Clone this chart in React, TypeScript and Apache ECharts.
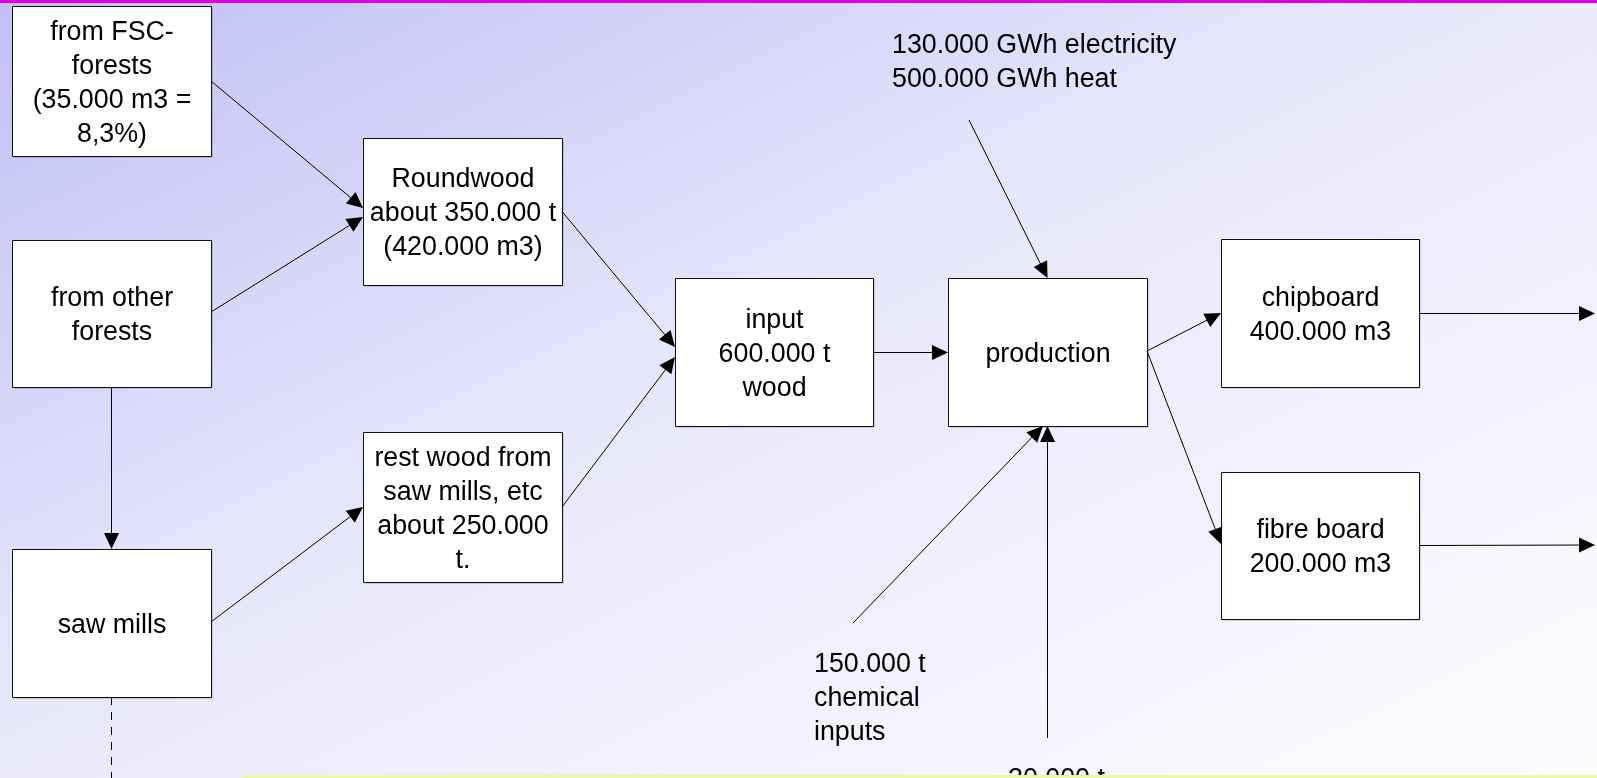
import React, { useEffect, useRef } from "react";
import * as echarts from "echarts";

// ---------- content (data) ----------
const nodeIds = ["fsc", "other", "saw", "round", "rest", "input", "prod", "chip", "fibre"];
const nodeLabels = [
  ["from FSC-", "forests", "(35.000 m3 =", "8,3%)"],
  ["from other", "forests"],
  ["saw mills"],
  ["Roundwood", "about 350.000 t", "(420.000 m3)"],
  ["rest wood from", "saw mills, etc", "about 250.000", "t."],
  ["input", "600.000 t", "wood"],
  ["production"],
  ["chipboard", "400.000 m3"],
  ["fibre board", "200.000 m3"],
];
const noteIds = ["energy", "chem", "lorry"];
const noteLabels = [
  ["130.000 GWh electricity", "500.000 GWh heat"],
  ["150.000 t", "chemical", "inputs"],
  ["20.000 t"],
];
const flowFrom = ["fsc", "other", "other", "saw", "round", "rest", "input", "energyStart", "chemStart", "lorryStart", "prod", "prod", "chip", "fibre", "saw"];
const flowTo = ["round", "round", "saw", "rest", "input", "input", "prod", "prod", "prod", "prod", "chip", "fibre", "outChip", "outFibre", "outSaw"];
const flowDashed = [false, false, false, false, false, false, false, false, false, false, false, false, false, false, true];

// ---------- layout (positions / sizes) ----------
const CANVAS_W = 1597;
const CANVAS_H = 778;
const FONT_SIZE = 26.8;
const LINE_H = 34;
const FONT_FAMILY = '"Liberation Sans", Arial, Helvetica, sans-serif';

const boxRect: Record<string, [number, number, number, number]> = {
  fsc: [12, 6, 199, 150],
  other: [12, 240, 199, 147],
  saw: [12, 549, 199, 148],
  round: [363, 138, 199, 147],
  rest: [363, 432, 199, 150],
  input: [675, 278, 198, 148],
  prod: [948, 278, 199, 148],
  chip: [1221, 239, 198, 148],
  fibre: [1221, 472, 198, 147],
};
const notePos: Record<string, [number, number]> = {
  energy: [892, 27],
  chem: [814, 646],
  lorry: [1008, 761],
};
const freePoint: Record<string, [number, number]> = {
  energyStart: [969, 120],
  chemStart: [853, 623],
  lorryStart: [1047.5, 738],
  outChip: [1595, 313],
  outFibre: [1595, 545],
  outSaw: [111.5, 778],
};
// [fromSide, fromFrac, toSide, toFrac]
const flowSides: [string, number, string, number][] = [
  ["r", 0.5, "l", 0.476],
  ["r", 0.49, "l", 0.537],
  ["b", 0.5, "t", 0.5],
  ["r", 0.493, "l", 0.5],
  ["r", 0.5, "l", 0.466],
  ["r", 0.5, "l", 0.534],
  ["r", 0.5, "l", 0.5],
  ["", 0, "t", 0.5],
  ["", 0, "b", 0.477],
  ["", 0, "b", 0.5],
  ["r", 0.493, "l", 0.5],
  ["r", 0.493, "l", 0.49],
  ["r", 0.5, "", 0],
  ["r", 0.5, "", 0],
  ["b", 0.5, "", 0],
];

function anchor(id: string, side: string, f: number): [number, number] {
  const r = boxRect[id];
  if (!r) return freePoint[id];
  const [x, y, w, h] = r;
  if (side === "r") return [x + w, y + h * f];
  if (side === "l") return [x, y + h * f];
  if (side === "t") return [x + w * f, y];
  return [x + w * f, y + h];
}

const crisp = (v: number) => Math.round(v - 0.5) + 0.5;

export default function App() {
  const ref = useRef<HTMLDivElement>(null);

  useEffect(() => {
    if (!ref.current) return;
    const chart = echarts.init(ref.current, undefined, { renderer: "svg" });

    const boxSeries = {
      type: "custom",
      coordinateSystem: "cartesian2d",
      clip: false,
      silent: true,
      z: 2,
      data: nodeIds.map((_, i) => [i, 0]),
      renderItem: (params: any, api: any) => {
        const i = api.value(0);
        const [x, y, w, h] = boxRect[nodeIds[i]];
        const p1 = api.coord([x, y]);
        const p2 = api.coord([x + w, y + h]);
        const x0 = crisp(p1[0]);
        const y0 = crisp(p1[1]);
        const x1 = crisp(p2[0]);
        const y1 = crisp(p2[1]);
        return {
          type: "group",
          children: [
            {
              type: "rect",
              shape: { x: x0 + 1, y: y0 + 1, width: x1 - x0, height: y1 - y0 },
              style: { fill: "rgba(0,0,0,0.28)" },
            },
            {
              type: "rect",
              shape: { x: x0, y: y0, width: x1 - x0, height: y1 - y0 },
              style: { fill: "#ffffff", stroke: "#111111", lineWidth: 1 },
            },
            {
              type: "text",
              style: {
                text: nodeLabels[i].join("\n"),
                x: (x0 + x1) / 2,
                y: (y0 + y1) / 2,
                align: "center",
                verticalAlign: "middle",
                fontSize: FONT_SIZE,
                fontFamily: FONT_FAMILY,
                lineHeight: LINE_H,
                fill: "#000000",
              },
            },
          ],
        };
      },
    };

    const flowSeries = {
      type: "custom",
      coordinateSystem: "cartesian2d",
      clip: false,
      silent: true,
      z: 3,
      data: flowFrom.map((_, i) => [i, 0]),
      renderItem: (params: any, api: any) => {
        const i = api.value(0);
        const [fs, ff, ts, tf] = flowSides[i];
        const a = api.coord(anchor(flowFrom[i], fs, ff));
        const b = api.coord(anchor(flowTo[i], ts, tf));
        let ax = a[0], ay = a[1], bx = b[0], by = b[1];
        if (Math.abs(ax - bx) < 0.01) { ax = crisp(ax); bx = ax; }
        if (Math.abs(ay - by) < 0.01) { ay = crisp(ay); by = ay; }
        const dashed = flowDashed[i];
        if (dashed) {
          return {
            type: "line",
            shape: { x1: ax, y1: ay, x2: bx, y2: by },
            style: { stroke: "#000000", lineWidth: 1, lineDash: [8, 7] },
          };
        }
        const dx = bx - ax, dy = by - ay;
        const len = Math.hypot(dx, dy);
        const ux = dx / len, uy = dy / len;
        const L = 16, HW = 7.5;
        const baseX = bx - ux * L, baseY = by - uy * L;
        return {
          type: "group",
          children: [
            {
              type: "line",
              shape: { x1: ax, y1: ay, x2: baseX + ux * 2, y2: baseY + uy * 2 },
              style: { stroke: "#000000", lineWidth: 1 },
            },
            {
              type: "polygon",
              shape: {
                points: [
                  [bx, by],
                  [baseX - uy * HW, baseY + ux * HW],
                  [baseX + uy * HW, baseY - ux * HW],
                ],
              },
              style: { fill: "#000000" },
            },
          ],
        };
      },
    };

    const noteSeries = {
      type: "custom",
      coordinateSystem: "cartesian2d",
      clip: false,
      silent: true,
      z: 4,
      data: noteIds.map((_, i) => [i, 0]),
      renderItem: (params: any, api: any) => {
        const i = api.value(0);
        const p = api.coord(notePos[noteIds[i]]);
        return {
          type: "text",
          style: {
            text: noteLabels[i].join("\n"),
            x: p[0],
            y: p[1],
            align: "left",
            verticalAlign: "top",
            fontSize: FONT_SIZE,
            fontFamily: FONT_FAMILY,
            lineHeight: LINE_H,
            fill: "#000000",
          },
        };
      },
    };

    chart.setOption({
      animation: false,
      grid: { left: 0, right: 0, top: 0, bottom: 0 },
      xAxis: { type: "value", min: 0, max: CANVAS_W, show: false },
      yAxis: { type: "value", min: 0, max: CANVAS_H, inverse: true, show: false },
      graphic: [
        {
          type: "rect",
          z: -10,
          silent: true,
          shape: { x: 0, y: 0, width: CANVAS_W, height: CANVAS_H },
          style: {
            fill: new echarts.graphic.LinearGradient(0, 0, 1, 1, [
              { offset: 0, color: "#c0c0f6" },
              { offset: 0.25, color: "#d5d5f9" },
              { offset: 0.45, color: "#e7e7fb" },
              { offset: 0.65, color: "#f0f0fd" },
              { offset: 1, color: "#fcfcff" },
            ]),
          },
        },
        {
          type: "rect",
          z: 100,
          silent: true,
          shape: { x: 0, y: 0, width: CANVAS_W, height: 3 },
          style: { fill: "#e000e6" },
        },
        {
          type: "rect",
          z: 100,
          silent: true,
          shape: { x: 243, y: 775, width: CANVAS_W - 243, height: 10 },
          style: { fill: "#eef89e" },
        },
      ],
      series: [boxSeries, flowSeries, noteSeries],
    });

    return () => chart.dispose();
  }, []);

  return (
    <div
      ref={ref}
      style={{ position: "fixed", left: 0, top: 0, width: CANVAS_W, height: CANVAS_H }}
    />
  );
}
